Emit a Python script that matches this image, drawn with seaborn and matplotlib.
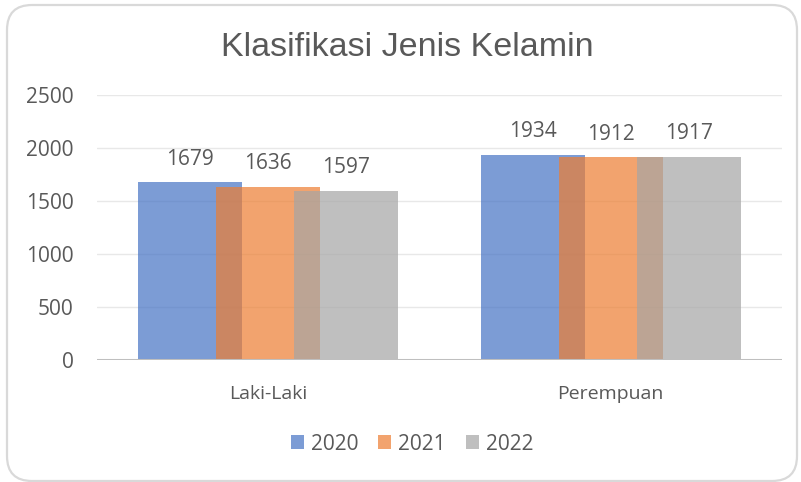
import matplotlib
matplotlib.use("Agg")
import matplotlib.pyplot as plt
import seaborn as sns
import pandas as pd
from matplotlib.patches import FancyBboxPatch
from matplotlib.transforms import IdentityTransform

# Data
categories = ["Laki-Laki", "Perempuan"]
years = ["2020", "2021", "2022"]
values_2020 = [1679, 1934]
values_2021 = [1636, 1912]
values_2022 = [1597, 1917]
colors = ["#4472C4", "#ED7D31", "#A5A5A5"]

sns.set_style("white")
plt.rcParams['font.family'] = ['Open Sans', 'DejaVu Sans']
text_color = "#595959"

rows = []
for year, vals in zip(years, [values_2020, values_2021, values_2022]):
    for cat, v in zip(categories, vals):
        rows.append({"kategori": cat, "tahun": year, "jumlah": v})
df = pd.DataFrame(rows)

fig = plt.figure(figsize=(8.01, 4.82), dpi=100, facecolor="white")
ax = fig.add_axes([97 / 801, 1 - 360 / 482, (782 - 97) / 801, (360 - 95) / 482])

sns.barplot(data=df, x="kategori", y="jumlah", hue="tahun", palette=colors,
            saturation=1, width=0.684, gap=0, alpha=0.7, linewidth=0,
            legend=False, ax=ax)

# widen bars so neighbours overlap (Excel style)
for cont in ax.containers:
    for p in cont.patches:
        w = p.get_width()
        nw = w * 4 / 3
        p.set_x(p.get_x() - (nw - w) / 2)
        p.set_width(nw)
    ax.bar_label(cont, padding=9, fontsize=15, color=text_color)

ax.set_ylim(0, 2500)
ax.set_yticks([0, 500, 1000, 1500, 2000, 2500])
ax.set_xlim(-0.5, 1.5)
ax.set_xlabel("")
ax.set_ylabel("")
ax.grid(True, axis="y", color="#E8E8E8", lw=1)
ax.set_axisbelow(True)
for s in ax.spines.values():
    s.set_visible(False)
ax.axhline(0, color="#BFBFBF", lw=2.2, zorder=5)
ax.tick_params(axis="y", length=0, pad=17, labelsize=15, labelcolor=text_color)
ax.tick_params(axis="x", length=0, pad=18, labelsize=14, labelcolor=text_color)

fig.text(0.509, 1 - 47 / 482, "Klasifikasi Jenis Kelamin", ha="center", va="center",
         fontsize=24.5, color=text_color, family=["Liberation Sans", "DejaVu Sans"])

fig.legend(ax.containers, years, loc="center", bbox_to_anchor=(412 / 801, 1 - 444 / 482),
           ncol=3, frameon=False, fontsize=15, labelcolor=text_color,
           handlelength=0.62, handleheight=0.62, handletextpad=0.35, columnspacing=0.95)

# rounded chart border
border = FancyBboxPatch((7, 1), 790, 476, boxstyle="round,pad=0,rounding_size=25",
                        transform=IdentityTransform(), fill=False,
                        edgecolor="#D9D9D9", lw=1.6)
fig.add_artist(border)

fig.savefig("out.png", dpi=100, facecolor="white")
